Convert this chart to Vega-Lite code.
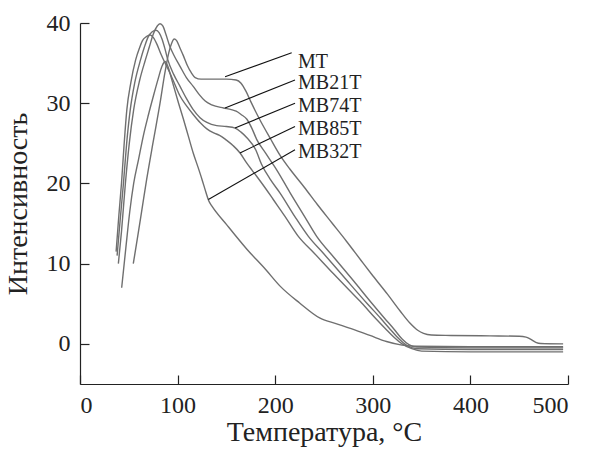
{
  "$schema": "https://vega.github.io/schema/vega-lite/v6.json",
  "width": 488,
  "height": 361,
  "autosize": "none",
  "padding": {"left": 80, "top": 23, "right": 22, "bottom": 65},
  "background": "white",
  "config": {
    "view": {"stroke": null},
    "font": "Liberation Serif, Times New Roman, serif",
    "axis": {
      "grid": false,
      "domainColor": "#222",
      "tickColor": "#222",
      "labelColor": "#222",
      "titleColor": "#222",
      "labelFont": "Liberation Serif, Times New Roman, serif",
      "titleFont": "Liberation Serif, Times New Roman, serif",
      "labelFontSize": 24,
      "titleFontSize": 28,
      "titleFontWeight": "normal",
      "tickSize": -9,
      "domainWidth": 1.2,
      "tickWidth": 1.2
    }
  },
  "datasets": {
    "curves": [
      {"s":"MT","t":54.6,"i":10},{"s":"MT","t":59,"i":13.3},{"s":"MT","t":63.4,"i":16.7},{"s":"MT","t":68.3,"i":20.5},{"s":"MT","t":75,"i":25.2},{"s":"MT","t":82,"i":30},{"s":"MT","t":87,"i":33.8},{"s":"MT","t":91,"i":36.3},{"s":"MT","t":94,"i":37.5},{"s":"MT","t":96.5,"i":38},{"s":"MT","t":99,"i":37.8},{"s":"MT","t":102,"i":37},{"s":"MT","t":106,"i":35.9},{"s":"MT","t":110,"i":34.7},{"s":"MT","t":114,"i":33.8},{"s":"MT","t":118,"i":33.2},{"s":"MT","t":124,"i":33},{"s":"MT","t":135,"i":33},{"s":"MT","t":150,"i":33},{"s":"MT","t":160,"i":32.9},{"s":"MT","t":165,"i":32.5},{"s":"MT","t":170,"i":31.5},{"s":"MT","t":175,"i":30.2},{"s":"MT","t":184,"i":28},{"s":"MT","t":195,"i":25.6},{"s":"MT","t":205,"i":23.5},{"s":"MT","t":215,"i":21.8},{"s":"MT","t":230,"i":19.5},{"s":"MT","t":243,"i":17.4},{"s":"MT","t":258,"i":15.1},{"s":"MT","t":273,"i":12.8},{"s":"MT","t":288,"i":10.4},{"s":"MT","t":300,"i":8.5},{"s":"MT","t":315,"i":6.2},{"s":"MT","t":328,"i":4.1},{"s":"MT","t":338,"i":2.6},{"s":"MT","t":346,"i":1.7},{"s":"MT","t":352,"i":1.3},{"s":"MT","t":360,"i":1.1},{"s":"MT","t":380,"i":1.05},{"s":"MT","t":420,"i":1.0},{"s":"MT","t":450,"i":0.95},{"s":"MT","t":457,"i":0.85},{"s":"MT","t":462,"i":0.55},{"s":"MT","t":467,"i":0.2},{"s":"MT","t":472,"i":0.05},{"s":"MT","t":495,"i":0},
      {"s":"MB21T","t":39.3,"i":10},{"s":"MB21T","t":42.5,"i":14},{"s":"MB21T","t":46.5,"i":20},{"s":"MB21T","t":50.5,"i":25},{"s":"MB21T","t":55,"i":29.2},{"s":"MB21T","t":61,"i":32.8},{"s":"MB21T","t":67,"i":35.4},{"s":"MB21T","t":71,"i":37},{"s":"MB21T","t":75,"i":38.6},{"s":"MB21T","t":79,"i":39.6},{"s":"MB21T","t":82,"i":39.9},{"s":"MB21T","t":85,"i":39.6},{"s":"MB21T","t":88,"i":38.6},{"s":"MB21T","t":92,"i":37.1},{"s":"MB21T","t":97,"i":35.8},{"s":"MB21T","t":102.5,"i":34.6},{"s":"MB21T","t":109,"i":33.2},{"s":"MB21T","t":116,"i":32.1},{"s":"MB21T","t":122,"i":31.1},{"s":"MB21T","t":128,"i":30.3},{"s":"MB21T","t":135,"i":29.8},{"s":"MB21T","t":147,"i":29.4},{"s":"MB21T","t":155,"i":29.2},{"s":"MB21T","t":160,"i":29},{"s":"MB21T","t":165,"i":28.6},{"s":"MB21T","t":171,"i":28},{"s":"MB21T","t":176,"i":26.9},{"s":"MB21T","t":181,"i":25.5},{"s":"MB21T","t":190,"i":23.8},{"s":"MB21T","t":201.5,"i":21.7},{"s":"MB21T","t":215,"i":18.9},{"s":"MB21T","t":230,"i":15.9},{"s":"MB21T","t":242.5,"i":13.4},{"s":"MB21T","t":260,"i":10.8},{"s":"MB21T","t":280,"i":7.9},{"s":"MB21T","t":298.8,"i":5.1},{"s":"MB21T","t":312,"i":3.2},{"s":"MB21T","t":322,"i":1.8},{"s":"MB21T","t":330,"i":0.6},{"s":"MB21T","t":337,"i":-0.1},{"s":"MB21T","t":345,"i":-0.4},{"s":"MB21T","t":400,"i":-0.5},{"s":"MB21T","t":495,"i":-0.5},
      {"s":"MB74T","t":38,"i":11},{"s":"MB74T","t":41.2,"i":15.5},{"s":"MB74T","t":44.5,"i":20},{"s":"MB74T","t":47.8,"i":25},{"s":"MB74T","t":51.5,"i":29.2},{"s":"MB74T","t":56,"i":32.5},{"s":"MB74T","t":62,"i":35.4},{"s":"MB74T","t":66,"i":37},{"s":"MB74T","t":70,"i":38.3},{"s":"MB74T","t":74,"i":38.9},{"s":"MB74T","t":78,"i":39.1},{"s":"MB74T","t":81,"i":38.8},{"s":"MB74T","t":84,"i":38},{"s":"MB74T","t":87,"i":36.8},{"s":"MB74T","t":90,"i":35.4},{"s":"MB74T","t":96,"i":33.6},{"s":"MB74T","t":102.5,"i":32.1},{"s":"MB74T","t":109,"i":30.6},{"s":"MB74T","t":116,"i":29.2},{"s":"MB74T","t":123,"i":28.2},{"s":"MB74T","t":130,"i":27.6},{"s":"MB74T","t":140,"i":27.2},{"s":"MB74T","t":150,"i":27.1},{"s":"MB74T","t":159,"i":26.9},{"s":"MB74T","t":165,"i":26.4},{"s":"MB74T","t":171,"i":25.7},{"s":"MB74T","t":180,"i":24.2},{"s":"MB74T","t":186,"i":22.4},{"s":"MB74T","t":195,"i":20.5},{"s":"MB74T","t":205,"i":18.8},{"s":"MB74T","t":220,"i":15.9},{"s":"MB74T","t":234,"i":13.4},{"s":"MB74T","t":250,"i":11.2},{"s":"MB74T","t":270,"i":8.4},{"s":"MB74T","t":293.7,"i":5.1},{"s":"MB74T","t":308,"i":3.2},{"s":"MB74T","t":318,"i":1.8},{"s":"MB74T","t":327,"i":0.6},{"s":"MB74T","t":335,"i":-0.2},{"s":"MB74T","t":345,"i":-0.6},{"s":"MB74T","t":400,"i":-0.7},{"s":"MB74T","t":495,"i":-0.7},
      {"s":"MB85T","t":37,"i":11.5},{"s":"MB85T","t":39.8,"i":16},{"s":"MB85T","t":42.5,"i":20},{"s":"MB85T","t":45,"i":24.5},{"s":"MB85T","t":48,"i":29.2},{"s":"MB85T","t":52,"i":32.5},{"s":"MB85T","t":57,"i":35.4},{"s":"MB85T","t":61,"i":36.9},{"s":"MB85T","t":64,"i":37.8},{"s":"MB85T","t":68,"i":38.3},{"s":"MB85T","t":72,"i":38.5},{"s":"MB85T","t":75,"i":38.2},{"s":"MB85T","t":79,"i":37.3},{"s":"MB85T","t":83,"i":36.1},{"s":"MB85T","t":88,"i":34.8},{"s":"MB85T","t":92,"i":33.8},{"s":"MB85T","t":97,"i":32.4},{"s":"MB85T","t":102.5,"i":30.9},{"s":"MB85T","t":109,"i":29.7},{"s":"MB85T","t":116,"i":28.6},{"s":"MB85T","t":123,"i":27.6},{"s":"MB85T","t":130,"i":26.8},{"s":"MB85T","t":137,"i":26.3},{"s":"MB85T","t":143,"i":26},{"s":"MB85T","t":150,"i":25.4},{"s":"MB85T","t":157,"i":24.7},{"s":"MB85T","t":164,"i":23.8},{"s":"MB85T","t":170,"i":22.7},{"s":"MB85T","t":176,"i":21.7},{"s":"MB85T","t":181,"i":20.9},{"s":"MB85T","t":190,"i":19.4},{"s":"MB85T","t":198,"i":18},{"s":"MB85T","t":210,"i":15.9},{"s":"MB85T","t":223.7,"i":13.4},{"s":"MB85T","t":240,"i":11.3},{"s":"MB85T","t":260,"i":8.7},{"s":"MB85T","t":275,"i":6.8},{"s":"MB85T","t":288.6,"i":5.1},{"s":"MB85T","t":302,"i":3.3},{"s":"MB85T","t":313,"i":1.9},{"s":"MB85T","t":322,"i":0.8},{"s":"MB85T","t":330,"i":0},{"s":"MB85T","t":340,"i":-0.6},{"s":"MB85T","t":350,"i":-0.9},{"s":"MB85T","t":400,"i":-1.0},{"s":"MB85T","t":495,"i":-1.0},
      {"s":"MB32T","t":42.7,"i":7},{"s":"MB32T","t":47,"i":12},{"s":"MB32T","t":51,"i":16.5},{"s":"MB32T","t":55,"i":20},{"s":"MB32T","t":60,"i":23},{"s":"MB32T","t":65,"i":26},{"s":"MB32T","t":70,"i":28.5},{"s":"MB32T","t":75,"i":30.8},{"s":"MB32T","t":80,"i":33},{"s":"MB32T","t":84,"i":34.6},{"s":"MB32T","t":87,"i":35.2},{"s":"MB32T","t":90,"i":34.6},{"s":"MB32T","t":93,"i":33.4},{"s":"MB32T","t":96,"i":32.1},{"s":"MB32T","t":101,"i":30},{"s":"MB32T","t":106,"i":28},{"s":"MB32T","t":111,"i":25.9},{"s":"MB32T","t":116,"i":23.8},{"s":"MB32T","t":121,"i":22},{"s":"MB32T","t":125,"i":20.5},{"s":"MB32T","t":129,"i":18.9},{"s":"MB32T","t":132,"i":17.8},{"s":"MB32T","t":135,"i":17.2},{"s":"MB32T","t":150,"i":14.9},{"s":"MB32T","t":171,"i":11.8},{"s":"MB32T","t":190,"i":9.3},{"s":"MB32T","t":205,"i":7.2},{"s":"MB32T","t":225,"i":5.1},{"s":"MB32T","t":246,"i":3.2},{"s":"MB32T","t":263,"i":2.5},{"s":"MB32T","t":280,"i":1.8},{"s":"MB32T","t":297,"i":1.05},{"s":"MB32T","t":314,"i":0.3},{"s":"MB32T","t":330,"i":-0.15},{"s":"MB32T","t":345,"i":-0.3},{"s":"MB32T","t":400,"i":-0.35},{"s":"MB32T","t":495,"i":-0.35}
    ],
    "leaders": [
      {"s":"MT","t":148.6,"i":33.3},{"s":"MT","t":216.9,"i":36.3},
      {"s":"MB21T","t":148.6,"i":29.4},{"s":"MB21T","t":220.3,"i":32.9},
      {"s":"MB74T","t":158.8,"i":26.9},{"s":"MB74T","t":220.3,"i":30.0},
      {"s":"MB85T","t":163.9,"i":23.8},{"s":"MB85T","t":220.3,"i":27.1},
      {"s":"MB32T","t":131.5,"i":18.0},{"s":"MB32T","t":220.3,"i":24.2}
    ],
    "labels": [
      {"s":"MT","t":223.4,"i":35.1},
      {"s":"MB21T","t":223.4,"i":32.5},
      {"s":"MB74T","t":223.4,"i":29.6},
      {"s":"MB85T","t":223.4,"i":26.8},
      {"s":"MB32T","t":223.4,"i":23.9}
    ]
  },
  "encoding": {
    "x": {"field": "t", "type": "quantitative",
      "scale": {"domain": [0, 500], "nice": false, "zero": false},
      "axis": {"values": [0,100,200,300,400,500], "title": "Температура, °C", "labelPadding": 18, "titlePadding": 1}},
    "y": {"field": "i", "type": "quantitative",
      "scale": {"domain": [-5, 40], "nice": false, "zero": false},
      "axis": {"values": [0,10,20,30,40], "title": "Интенсивность", "labelPadding": 19, "titlePadding": 14}}
  },
  "layer": [
    {
      "data": {"name": "curves"},
      "mark": {"type": "line", "color": "#6f6f6f", "strokeWidth": 1.4, "interpolate": "monotone"},
      "encoding": {"detail": {"field": "s"}}
    },
    {
      "data": {"name": "leaders"},
      "mark": {"type": "line", "color": "#111", "strokeWidth": 1.1},
      "encoding": {"detail": {"field": "s"}}
    },
    {
      "data": {"name": "labels"},
      "mark": {"type": "text", "align": "left", "baseline": "middle", "font": "Liberation Serif, Times New Roman, serif", "fontSize": 20, "color": "#222"},
      "encoding": {"text": {"field": "s"}}
    }
  ]
}
